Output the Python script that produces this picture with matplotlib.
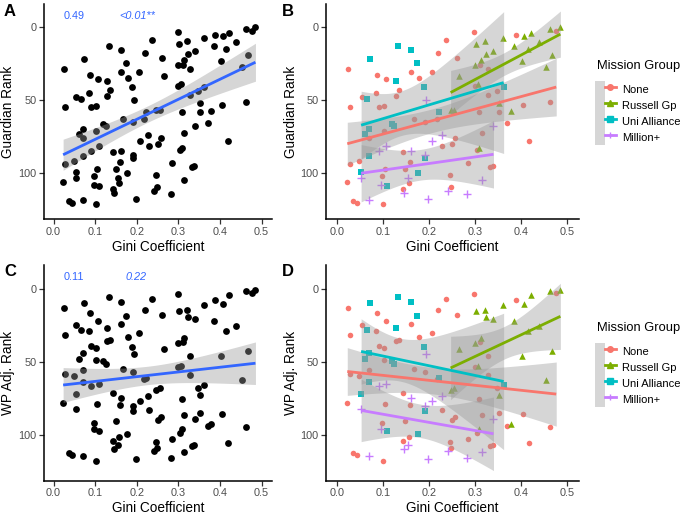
import numpy as np
import matplotlib.pyplot as plt
from matplotlib.lines import Line2D
from matplotlib.patches import Rectangle
from matplotlib.legend_handler import HandlerTuple

plt.rcParams['font.family'] = ['Liberation Sans', 'DejaVu Sans']

# data: gini coefficient, Guardian rank, WP adjusted rank
none_gini = [0.023, 0.025, 0.028, 0.028, 0.036, 0.044, 0.048, 0.054, 0.071, 0.086,
             0.087, 0.091, 0.098, 0.101, 0.102, 0.103, 0.104, 0.106, 0.129, 0.135,
             0.143, 0.143, 0.149, 0.157, 0.160, 0.161, 0.167, 0.178, 0.192, 0.206,
             0.218, 0.229, 0.236, 0.220, 0.246, 0.248, 0.298, 0.389, 0.476, 0.260,
             0.310, 0.329, 0.300, 0.329, 0.347, 0.404, 0.462, 0.308, 0.351, 0.370,
             0.418, 0.257, 0.314, 0.250, 0.304, 0.285, 0.338, 0.332]
none_guardian = [106.0, 28.7, 54.7, 93.8, 119.1, 120.0, 91.3, 47.8, 75.6, 44.8,
                 32.6, 54.7, 101.8, 120.9, 53.8, 71.0, 97.2, 35.6, 46.9, 42.8,
                 111.0, 85.1, 97.0, 106.9, 92.0, 30.6, 62.8, 34.7, 64.6, 30.6,
                 62.8, 80.9, 8.5, 17.5, 100.9, 109.0, 3.4, 5.3, 2.5, 20.7,
                 25.5, 28.7, 39.8, 46.0, 43.7, 52.9, 50.8, 57.7, 57.7, 65.7,
                 77.9, 75.9, 72.0, 80.0, 83.9, 93.1, 94.7, 95.9]
none_wp = [78.0, 13.0, 58.1, 32.0, 112.8, 114.0, 60.0, 24.9, 55.8, 28.8,
           16.9, 39.1, 92.0, 118.1, 40.7, 49.0, 78.9, 22.0, 35.9, 35.2,
           104.1, 71.2, 90.8, 101.8, 79.9, 23.8, 54.9, 33.2, 57.0, 30.2,
           62.0, 83.1, 7.1, 14.2, 104.8, 109.2, 3.9, 8.0, 3.0, 17.8,
           36.6, 46.0, 53.8, 59.0, 68.0, 86.0, 95.0, 75.7, 84.9, 94.1,
           106.0, 87.6, 86.7, 89.9, 98.9, 103.0, 106.9, 107.8]

russell_gini = [0.485, 0.462, 0.422, 0.407, 0.361, 0.321, 0.301, 0.385, 0.438, 0.415,
                0.339, 0.323, 0.313, 0.402, 0.299, 0.466, 0.453, 0.265, 0.306, 0.247,
                0.255, 0.352, 0.378, 0.308]
russell_guardian = [0.0, 1.1, 4.1, 6.0, 7.1, 9.0, 11.0, 12.9, 10.1, 14.5,
                    16.1, 17.9, 22.1, 23.2, 26.0, 19.1, 27.4, 33.3, 38.4, 56.8,
                    56.3, 51.5, 57.2, 82.3]
russell_wp = [0.5, 1.6, 4.6, 10.5, 11.4, 14.4, 15.3, 22.4, 25.6, 29.1,
              20.6, 19.5, 33.6, 46.2, 37.3, 42.3, 62.5, 41.4, 52.6, 69.3,
              68.2, 72.5, 92.4, 96.0]

alliance_gini = [0.073, 0.134, 0.161, 0.175, 0.129, 0.189, 0.065, 0.221, 0.119, 0.125,
                 0.071, 0.061, 0.070, 0.192, 0.053, 0.177, 0.110, 0.362]
alliance_guardian = [21.6, 12.4, 15.6, 24.6, 36.6, 40.7, 48.7, 57.7, 66.0, 67.8,
                     69.7, 72.9, 87.8, 89.7, 99.1, 100.0, 108.7, 40.7]
alliance_wp = [9.8, 5.9, 8.9, 18.8, 26.8, 39.8, 27.9, 60.9, 49.4, 51.7,
               43.9, 47.8, 63.8, 84.0, 72.1, 99.8, 97.7, 65.7]

million_gini = [0.193, 0.108, 0.091, 0.161, 0.191, 0.207, 0.228, 0.053, 0.097, 0.155,
                0.071, 0.146, 0.199, 0.242, 0.340, 0.314, 0.282]
million_guardian = [49.4, 80.9, 84.6, 84.8, 87.6, 77.9, 73.8, 103.0, 107.6, 102.8,
                    118.2, 113.1, 117.2, 112.2, 67.6, 104.8, 114.0]
million_wp = [44.9, 65.0, 66.6, 75.1, 80.3, 76.9, 73.5, 82.4, 96.1, 106.9,
              114.9, 110.1, 116.9, 111.2, 89.0, 112.1, 116.0]

group_names = ['None', 'Russell Gp', 'Uni Alliance', 'Million+']
group_gini = [none_gini, russell_gini, alliance_gini, million_gini]
group_guardian = [none_guardian, russell_guardian, alliance_guardian, million_guardian]
group_wp = [none_wp, russell_wp, alliance_wp, million_wp]

colors = ['#F8766D', '#7CAE00', '#00BFC4', '#C77CFF']
markers = ['o', '^', 's', '+']
msizes = [16, 22, 16, 40]

x_ticks = [0.0, 0.1, 0.2, 0.3, 0.4, 0.5]
x_tick_labels = ['0.0', '0.1', '0.2', '0.3', '0.4', '0.5']
y_ticks = [0, 50, 100]


def t_quantile(df, z=1.959964):
    # Cornish-Fisher expansion of the 97.5% t quantile
    g1 = (z**3 + z) / 4
    g2 = (5*z**5 + 16*z**3 + 3*z) / 96
    g3 = (3*z**7 + 19*z**5 + 17*z**3 - 15*z) / 384
    return z + g1/df + g2/df**2 + g3/df**3


def add_smooth(ax, x, y, color):
    x = np.asarray(x)
    y = np.asarray(y)
    n = len(x)
    b, a = np.polyfit(x, y, 1)
    xs = np.linspace(x.min(), x.max(), 80)
    fit = a + b*xs
    s = np.sqrt(np.sum((y - (a + b*x))**2) / (n - 2))
    se = s*np.sqrt(1/n + (xs - x.mean())**2 / np.sum((x - x.mean())**2))
    t = t_quantile(n - 2)
    ax.fill_between(xs, fit - t*se, fit + t*se, color='#999999', alpha=0.4, lw=0, zorder=3)
    ax.plot(xs, fit, color=color, lw=2, zorder=4, solid_capstyle='butt')


def style(ax, ylabel):
    ax.set_xlim(-0.023, 0.525)
    ax.set_ylim(131.5, -16)
    ax.set_xticks(x_ticks)
    ax.set_xticklabels(x_tick_labels)
    ax.set_yticks(y_ticks)
    for side in ['top', 'right']:
        ax.spines[side].set_visible(False)
    for side in ['left', 'bottom']:
        ax.spines[side].set_linewidth(1.1)
    ax.tick_params(length=3.5, width=0.9, color='#333333', labelsize=7.8,
                   labelcolor='#4D4D4D', pad=2)
    ax.set_xlabel('Gini Coefficient', fontsize=9.8, labelpad=2)
    ax.set_ylabel(ylabel, fontsize=9.8, labelpad=2)


fig = plt.figure(figsize=(6.85, 5.15), dpi=100)
ax_a = fig.add_axes([0.0642, 0.574, 0.333, 0.418])
ax_b = fig.add_axes([0.476, 0.574, 0.369, 0.418])
ax_c = fig.add_axes([0.0642, 0.0666, 0.333, 0.418])
ax_d = fig.add_axes([0.476, 0.0666, 0.369, 0.418])

all_gini = np.concatenate(group_gini)
all_guardian = np.concatenate(group_guardian)
all_wp = np.concatenate(group_wp)

# A and C: all universities
for ax, yvals in [(ax_a, all_guardian), (ax_c, all_wp)]:
    ax.scatter(all_gini, yvals, s=24, color='black', lw=0, zorder=2)
    add_smooth(ax, all_gini, yvals, '#3366FF')

ax_a.text(0.049, -8, '0.49', color='#3366FF', fontsize=7.8, ha='center', va='center')
ax_a.text(0.200, -8, '<0.01**', color='#3366FF', fontsize=7.8, ha='center', va='center',
          style='italic')
ax_c.text(0.049, -8, '0.11', color='#3366FF', fontsize=7.8, ha='center', va='center')
ax_c.text(0.199, -8, '0.22', color='#3366FF', fontsize=7.8, ha='center', va='center',
          style='italic')

# B and D: by mission group
for ax, group_y in [(ax_b, group_guardian), (ax_d, group_wp)]:
    for gx, gy, c, m, ms in zip(group_gini, group_y, colors, markers, msizes):
        if m == '+':
            ax.scatter(gx, gy, s=ms, color=c, marker=m, lw=1, zorder=2)
        else:
            ax.scatter(gx, gy, s=ms, color=c, marker=m, lw=0, zorder=2)
    for gx, gy, c in zip(group_gini, group_y, colors):
        add_smooth(ax, gx, gy, c)

style(ax_a, 'Guardian Rank')
style(ax_b, 'Guardian Rank')
style(ax_c, 'WP Adj. Rank')
style(ax_d, 'WP Adj. Rank')

for label, x, y in [('A', 10, 12), ('B', 288, 12), ('C', 10, 272), ('D', 288, 272)]:
    fig.text(x/685, 1 - y/515, label, fontsize=12, fontweight='bold', ha='center', va='center')

# legends (title placed separately to get ggplot-like spacing)
for ax, title_y in [(ax_b, 66), (ax_d, 328)]:
    handles = []
    for c, m in zip(colors, markers):
        key = Rectangle((0, 0), 1, 1, facecolor='#D6D6D6', edgecolor='none')
        line = Line2D([], [], color=c, lw=2, marker=m, markersize=4, markeredgewidth=1)
        handles.append((key, line))
    fig.text(597/685, 1 - title_y/515, 'Mission Group', fontsize=9.3, ha='left', va='center')
    ax.legend(handles, group_names, loc='upper left',
              bbox_to_anchor=(595/685, 1 - (title_y + 15)/515), bbox_transform=fig.transFigure,
              frameon=False, fontsize=8, handlelength=1.85, handleheight=1.85,
              labelspacing=0, handletextpad=0.6, borderpad=0, borderaxespad=0,
              handler_map={tuple: HandlerTuple(ndivide=None, pad=0)})

fig.savefig('out.png', dpi=100)
